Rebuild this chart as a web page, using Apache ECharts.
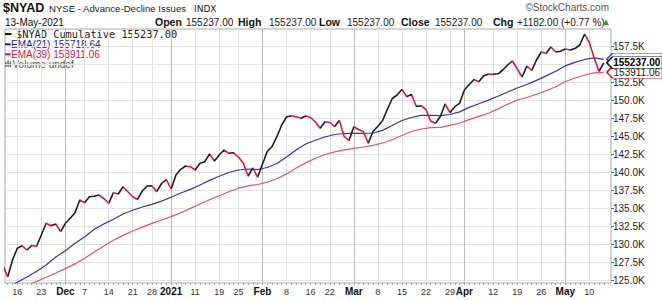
<!DOCTYPE html>
<html><head><meta charset="utf-8">
<script src="https://cdn.jsdelivr.net/npm/echarts@6/dist/echarts.min.js"></script>
<style>html,body{margin:0;padding:0;background:#fff}#c{width:662px;height:300px}</style>
</head><body><div id="c"></div>
<script>
// ---------------- data ----------------
const dates = [
 '2020-11-11','2020-11-12','2020-11-13','2020-11-16','2020-11-17','2020-11-18','2020-11-19','2020-11-20','2020-11-23','2020-11-24','2020-11-25','2020-11-27','2020-11-30',
 '2020-12-01','2020-12-02','2020-12-03','2020-12-04','2020-12-07','2020-12-08','2020-12-09','2020-12-10','2020-12-11','2020-12-14','2020-12-15','2020-12-16','2020-12-17','2020-12-18','2020-12-21','2020-12-22','2020-12-23','2020-12-24','2020-12-28','2020-12-29','2020-12-30','2020-12-31',
 '2021-01-04','2021-01-05','2021-01-06','2021-01-07','2021-01-08','2021-01-11','2021-01-12','2021-01-13','2021-01-14','2021-01-15','2021-01-19','2021-01-20','2021-01-21','2021-01-22','2021-01-25','2021-01-26','2021-01-27','2021-01-28','2021-01-29',
 '2021-02-01','2021-02-02','2021-02-03','2021-02-04','2021-02-05','2021-02-08','2021-02-09','2021-02-10','2021-02-11','2021-02-12','2021-02-16','2021-02-17','2021-02-18','2021-02-19','2021-02-22','2021-02-23','2021-02-24','2021-02-25','2021-02-26',
 '2021-03-01','2021-03-02','2021-03-03','2021-03-04','2021-03-05','2021-03-08','2021-03-09','2021-03-10','2021-03-11','2021-03-12','2021-03-15','2021-03-16','2021-03-17','2021-03-18','2021-03-19','2021-03-22','2021-03-23','2021-03-24','2021-03-25','2021-03-26','2021-03-29','2021-03-30','2021-03-31',
 '2021-04-01','2021-04-05','2021-04-06','2021-04-07','2021-04-08','2021-04-09','2021-04-12','2021-04-13','2021-04-14','2021-04-15','2021-04-16','2021-04-19','2021-04-20','2021-04-21','2021-04-22','2021-04-23','2021-04-26','2021-04-27','2021-04-28','2021-04-29','2021-04-30',
 '2021-05-03','2021-05-04','2021-05-05','2021-05-06','2021-05-07','2021-05-10','2021-05-11','2021-05-12','2021-05-13'
];
const priceValues = [
 127153,125486,127847,129472,129819,129236,129861,129750,131319,132944,132611,132847,131778,
 132944,133639,134417,136181,135806,136639,136694,136875,136389,135722,137194,137014,138028,137333,136639,136278,137431,138125,138167,137333,138472,139028,
 137708,139653,140444,140903,140806,140347,141278,141500,142569,141597,142431,143125,142667,142736,142153,141319,139514,140625,139333,
 141181,142917,143611,144972,146597,147708,147875,147750,147528,147847,147639,147014,146139,147056,146944,146389,147222,145000,144444,
 146361,145972,145667,144056,145694,146417,147222,148819,150278,150764,151528,150556,150833,149167,149278,148750,147153,146833,147778,149514,148306,149139,149611,
 151458,152222,152917,152611,153403,153681,153639,153708,154236,154931,155486,154375,153264,154792,154167,155625,156736,156556,157431,156736,156833,
 157153,157014,157222,157708,159208,158056,155903,154055,155237
];
// EMA lines, read every second trading day
const emaDates = [
 '2020-11-12','2020-11-16','2020-11-18','2020-11-20','2020-11-24','2020-11-27',
 '2020-12-01','2020-12-03','2020-12-07','2020-12-09','2020-12-11','2020-12-15','2020-12-17','2020-12-21','2020-12-23','2020-12-28','2020-12-30',
 '2021-01-04','2021-01-06','2021-01-08','2021-01-12','2021-01-14','2021-01-19','2021-01-21','2021-01-25','2021-01-27','2021-01-29',
 '2021-02-02','2021-02-04','2021-02-08','2021-02-10','2021-02-12','2021-02-17','2021-02-19','2021-02-23','2021-02-25',
 '2021-03-01','2021-03-03','2021-03-05','2021-03-09','2021-03-11','2021-03-15','2021-03-17','2021-03-19','2021-03-23','2021-03-25','2021-03-29','2021-03-31',
 '2021-04-05','2021-04-07','2021-04-09','2021-04-13','2021-04-15','2021-04-19','2021-04-21','2021-04-23','2021-04-27','2021-04-29',
 '2021-05-03','2021-05-05','2021-05-07','2021-05-11','2021-05-13'
];
const ema21Values = [
 124050,124764,125486,126250,127153,128264,
 129125,130167,131042,132125,132861,133500,134236,134764,135208,135569,136028,
 136556,137153,137653,138264,138903,139472,140000,140347,140486,140417,
 140694,141250,142153,143125,143958,144472,144931,145278,145417,
 145444,145444,145486,145847,146528,147222,147639,147944,147944,147903,148056,148417,
 149042,149542,150056,150583,151181,151736,152222,152792,153417,154069,
 154800,155300,155700,155930,155718.64
];
const ema39Values = [
 null,null,124300,124861,125458,126042,
 126653,127306,128083,128958,129792,130583,131264,131875,132417,132931,133403,
 133875,134417,135014,135625,136208,136778,137319,137819,138153,138333,
 138653,139125,139806,140625,141333,141972,142500,142875,143153,
 143361,143542,143778,144097,144556,145139,145694,146042,146236,146278,146556,146875,
 147347,147792,148236,148833,149472,150069,150417,150861,151361,151903,
 152639,153125,153542,153830,153911.06
];
const yTickValues = [125000,127500,130000,132500,135000,137500,140000,142500,145000,147500,150000,152500,155000,157500];
// 155.0K is covered by the price tag in the reference, so it is not labelled
const yLabelValues = [125000,127500,130000,132500,135000,137500,140000,142500,145000,147500,150000,152500,157500];
const weekTickDates = ['2020-11-16','2020-11-23','2020-12-07','2020-12-14','2020-12-21','2020-12-28','2021-01-11','2021-01-19','2021-01-25','2021-02-08','2021-02-16','2021-02-22','2021-03-08','2021-03-15','2021-03-22','2021-03-29','2021-04-12','2021-04-19','2021-04-26','2021-05-10'];
const weekTickLabels = ['16','23','7','14','21','28','11','19','25','8','16','22','8','15','22','29','12','19','26','10'];
const monthTickDates = ['2020-12-01','2021-01-04','2021-02-01','2021-03-01','2021-04-01','2021-05-03'];
const monthTickLabels = ['Dec','2021','Feb','Mar','Apr','May'];

// ---------------- build ----------------
const ARIAL = '"Liberation Sans", Arial, Helvetica, sans-serif';
const UP = '#1e1e1e', DOWN = '#e0163f', BLUE = '#3434aa', RED = '#e8506a';
const ix = d => dates.indexOf(d);
const weekIdx = weekTickDates.map(ix);
const monthIdx = monthTickDates.map(ix);
const dayIdx = dates.map((d, i) => i);
const X_MIN = 0.44, X_MAX = 126.5, Y_MIN = 124653, Y_MAX = 159930;

const priceData = priceValues.map((v, i) => [i, v]);
const ema21Data = emaDates.map((d, k) => [ix(d), ema21Values[k]]);
const ema39Data = emaDates.map((d, k) => [ix(d), ema39Values[k]]);
const downPieces = [];
for (let i = 1; i < priceValues.length; i++) {
  if (priceValues[i] < priceValues[i - 1]) downPieces.push({ gt: i - 1, lte: i, color: DOWN });
}
const last = a => a[a.length - 1];
const lastP = last(priceValues), prevP = priceValues[priceValues.length - 2];
const chg = lastP - prevP, pct = chg / prevP * 100;
const f2 = v => v.toFixed(2);

function tag(seriesLast, border, textColor, bold, showText) {
  return {
    silent: true, animation: false,
    symbol: 'path://M0,6L6,0L58,0L58,12L6,12Z',
    symbolSize: [56, 12], symbolOffset: [31, 0],
    itemStyle: { color: '#fff', borderColor: border, borderWidth: 1 },
    label: { show: showText, position: 'inside', offset: [2, 0], formatter: p => f2(p.value),
      color: textColor, fontSize: 10, lineHeight: 9, fontWeight: bold ? 'bold' : 'normal', fontFamily: ARIAL },
    data: [{ coord: seriesLast, value: seriesLast[1] }]
  };
}

function txt(x, y, text, font, fill, align) {
  return { type: 'text', x: x, y: y, silent: true,
    style: { text: text, font: font, fill: fill, textAlign: align || 'left', textVerticalAlign: 'middle', align: align || 'left', verticalAlign: 'middle' } };
}

const graphics = [
  txt(3, 8, '$NYAD', 'bold 12.5px ' + ARIAL, '#111'),
  txt(49, 8.5, 'NYSE - Advance-Decline Issues', '9.6px ' + ARIAL, '#222'),
  txt(194, 9, 'INDX', '9px "DejaVu Sans", sans-serif', '#222'),
  txt(609, 7.5, '\u00A9StockCharts.com', '10px ' + ARIAL, '#555', 'right'),
  txt(5, 22, '13-May-2021', '10px ' + ARIAL, '#111'),
  txt(155, 22, 'Open', 'bold 10.5px ' + ARIAL, '#111'),
  txt(186, 22, f2(lastP), '10px ' + ARIAL, '#222'),
  txt(238, 22, 'High', 'bold 10.5px ' + ARIAL, '#111'),
  txt(269, 22, f2(lastP), '10px ' + ARIAL, '#222'),
  txt(319, 22, 'Low', 'bold 10.5px ' + ARIAL, '#111'),
  txt(347, 22, f2(lastP), '10px ' + ARIAL, '#222'),
  txt(401, 22, 'Close', 'bold 10.5px ' + ARIAL, '#111'),
  txt(435, 22, f2(lastP), '10px ' + ARIAL, '#222'),
  txt(493, 22, 'Chg', 'bold 10.5px ' + ARIAL, '#111'),
  txt(517, 22, (chg >= 0 ? '+' : '') + f2(chg) + ' (' + (pct >= 0 ? '+' : '') + f2(pct) + ' %)', '10px ' + ARIAL, '#222'),
  { type: 'polygon', silent: true, shape: { points: [[603, 25], [609, 25], [606, 19.5]] }, style: { fill: '#2d9a2d' } },
  // legend
  { type: 'line', silent: true, shape: { x1: 5, y1: 34, x2: 11.5, y2: 34 }, style: { stroke: '#111', lineWidth: 2 } },
  txt(16, 34, '$NYAD Cumulative ' + f2(lastP), '10.3px "DejaVu Sans Mono", monospace', '#222'),
  { type: 'line', silent: true, shape: { x1: 5, y1: 44.3, x2: 10.5, y2: 44.3 }, style: { stroke: '#1c1ca0', lineWidth: 2 } },
  txt(11, 44.3, 'EMA(21) ' + f2(last(ema21Values)), '10px ' + ARIAL, '#1c1ca0'),
  { type: 'line', silent: true, shape: { x1: 5, y1: 54.3, x2: 10.5, y2: 54.3 }, style: { stroke: '#dc143c', lineWidth: 2 } },
  txt(11, 54.3, 'EMA(39) ' + f2(last(ema39Values)), '10px ' + ARIAL, '#dc143c'),
  { type: 'rect', silent: true, shape: { x: 5, y: 62, width: 1.5, height: 5 }, style: { fill: '#666' } },
  { type: 'rect', silent: true, shape: { x: 7.3, y: 60.5, width: 1.5, height: 6.5 }, style: { fill: '#666' } },
  { type: 'rect', silent: true, shape: { x: 9.6, y: 61.5, width: 1.5, height: 5.5 }, style: { fill: '#666' } },
  txt(12.5, 64, 'Volume undef', '10px ' + ARIAL, '#555')
];

const chart = echarts.init(document.getElementById('c'), null, { renderer: 'svg' });
chart.setOption({
  animation: false,
  backgroundColor: '#fff',
  grid: { left: 5, right: 51, top: 29, bottom: 17, show: true, borderColor: '#a9a9a9', borderWidth: 1, containLabel: false },
  xAxis: [
    { type: 'value', min: X_MIN, max: X_MAX, position: 'bottom',
      axisLine: { show: false }, axisTick: { show: false, customValues: weekIdx },
      axisLabel: { customValues: weekIdx, formatter: v => weekTickLabels[weekIdx.indexOf(v)], fontSize: 9, color: '#333', margin: 4, fontFamily: ARIAL },
      splitLine: { show: true, lineStyle: { color: '#e3e3e3', width: 1 } } },
    { type: 'value', min: X_MIN, max: X_MAX, position: 'bottom',
      axisLine: { show: false }, axisTick: { show: false, customValues: monthIdx },
      axisLabel: { customValues: monthIdx, formatter: v => monthTickLabels[monthIdx.indexOf(v)], fontSize: 10, fontWeight: 'bold', color: '#111', margin: 3, fontFamily: ARIAL },
      splitLine: { show: true, lineStyle: { color: '#bdbdbd', width: 1 } } },
    { type: 'value', min: X_MIN, max: X_MAX, position: 'bottom',
      axisLine: { show: false }, axisTick: { show: true, customValues: dayIdx, length: 2, lineStyle: { color: '#aaa' } },
      axisLabel: { show: false }, splitLine: { show: false } }
  ],
  yAxis: { type: 'value', position: 'right', min: Y_MIN, max: Y_MAX,
    axisLine: { show: false },
    axisTick: { show: true, length: 3, customValues: yTickValues, lineStyle: { color: '#666' } },
    axisLabel: { customValues: yLabelValues, formatter: v => (v / 1000).toFixed(1) + 'K', margin: 2, fontSize: 10, color: '#222', fontFamily: ARIAL },
    splitLine: { show: true, lineStyle: { color: '#e3e3e3', width: 1 } } },
  visualMap: { type: 'piecewise', show: false, seriesIndex: 2, dimension: 0, pieces: downPieces, outOfRange: { color: UP } },
  series: [
    { name: 'EMA(21)', type: 'line', data: ema21Data, showSymbol: false, connectNulls: true, z: 2,
      lineStyle: { color: BLUE, width: 1.2 }, itemStyle: { color: BLUE },
      markPoint: tag(last(ema21Data), '#4545d0', '#1c1ca0', false, false) },
    { name: 'EMA(39)', type: 'line', data: ema39Data, showSymbol: false, connectNulls: true, z: 3,
      lineStyle: { color: RED, width: 1.2 }, itemStyle: { color: RED },
      markPoint: tag(last(ema39Data), '#e0163f', '#222', false, true) },
    { name: '$NYAD', type: 'line', data: priceData, showSymbol: false, z: 4,
      lineStyle: { width: 1.6 },
      markPoint: tag(last(priceData), '#111', '#000', true, true) }
  ],
  graphic: graphics
});
</script>
</body></html>
